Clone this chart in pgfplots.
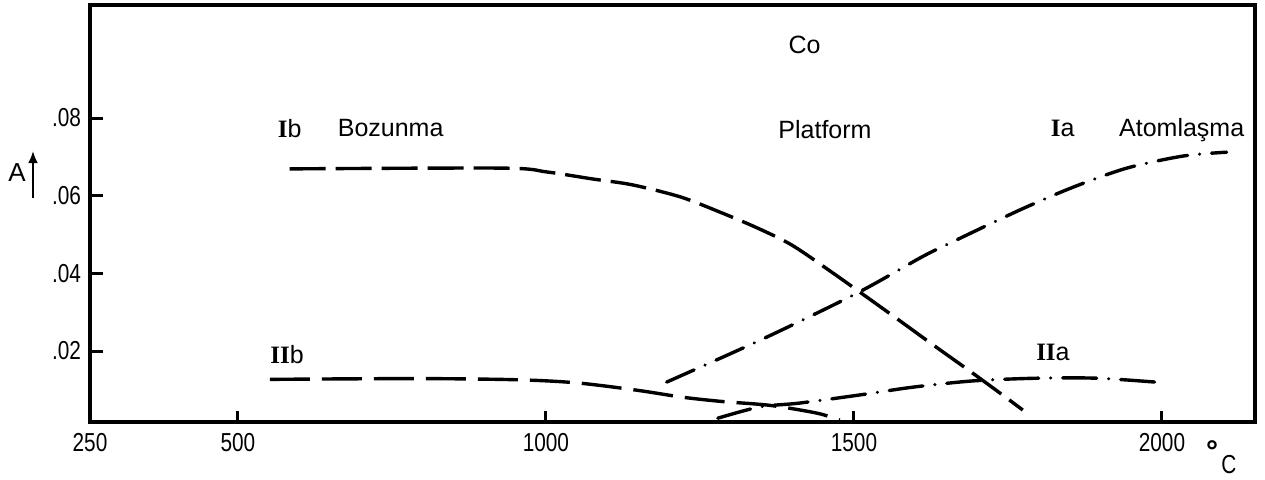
\documentclass[border=0pt]{standalone}
\usepackage{fontspec}
\setmainfont{Liberation Sans}
\newfontfamily\condfont{Liberation Sans}[FakeStretch=0.8]
\newfontfamily\romfont{Liberation Serif}
\usepackage{pgfplots}
\pgfplotsset{compat=1.18}
\usetikzlibrary{arrows.meta}
\begin{document}
\begin{tikzpicture}
\path[use as bounding box] (0,0) rectangle (632.5pt,239.5pt);
\begin{axis}[
  at={(45pt,28.5pt)}, anchor=south west,
  scale only axis, width=582.5pt, height=208.5pt,
  xmin=260, xmax=2151, ymin=0.00172, ymax=0.1091,
  axis line style={line width=1.6pt},
  xtick={260,500,1000,1500,2000}, xticklabels={250,500,1000,1500,2000},
  ytick={0.02,0.04,0.06,0.08}, yticklabels={.02,.04,.06,.08},
  xtick pos=left, ytick pos=left,
  major tick length=0pt,
  xticklabel style={yshift=-2pt},
  yticklabel style={xshift=-1pt},
  ticklabel style={font=\condfont\fontsize{13}{15}\selectfont},
  /pgf/number format/assume math mode=true,
  clip=false,
]
% inward ticks
\draw[line width=1.5pt] (axis cs:500,0.00172) -- (axis cs:500,0.0046);
\draw[line width=1.5pt] (axis cs:1000,0.00172) -- (axis cs:1000,0.0046);
\draw[line width=1.5pt] (axis cs:1500,0.00172) -- (axis cs:1500,0.0046);
\draw[line width=1.5pt] (axis cs:2000,0.00172) -- (axis cs:2000,0.0046);
\draw[line width=1.5pt] (axis cs:260,0.02) -- (axis cs:281,0.02);
\draw[line width=1.5pt] (axis cs:260,0.04) -- (axis cs:281,0.04);
\draw[line width=1.5pt] (axis cs:260,0.06) -- (axis cs:281,0.06);
\draw[line width=1.5pt] (axis cs:260,0.08) -- (axis cs:281,0.08);
% Ib
\addplot[black, line width=1.7pt, dash pattern=on 18pt off 5pt, smooth, tension=0.5] coordinates {
(584,0.0669) (929,0.0671) (1002,0.0661) (1076,0.0643) (1140,0.0628) (1218,0.0597)
(1282,0.0558) (1343,0.0517) (1399,0.0473) (1464,0.0403) (1523,0.03365) (1575,0.02773)
(1631,0.02129) (1688,0.01485) (1737,0.00918) (1774,0.00481)};
% IIb
\addplot[black, line width=1.7pt, dash pattern=on 20pt off 6pt, smooth, tension=0.5] coordinates {
(552,0.0127) (791,0.0129) (953,0.0126) (1050,0.0118) (1148,0.0099) (1222,0.0081)
(1286,0.0070) (1364,0.0060) (1440,0.0040) (1477,0.0022)};
% Ia
\addplot[black, line width=1.7pt, line cap=round, dash pattern=on 15pt off 6pt on 0.01pt off 6pt, smooth, tension=0.5] coordinates {
(1196,0.0120) (1352,0.0231) (1505,0.0349) (1610,0.0442) (1656,0.0478) (1769,0.0563)
(1856,0.0622) (1943,0.0671) (2034,0.0702) (2105,0.0712)};
% IIa
\addplot[black, line width=1.7pt, line cap=round, dash pattern=on 17pt off 6pt on 0.01pt off 6pt, smooth, tension=0.5] coordinates {
(1279,0.0027) (1347,0.0056) (1412,0.0066) (1510,0.0087) (1596,0.0107) (1693,0.0123)
(1797,0.0130) (1894,0.0130) (1989,0.0120)};
\begin{scope}[every node/.style={font=\fontsize{12.5}{14}\selectfont}]
\node at (axis cs:1420,0.0988) {Co};
\node at (axis cs:584,0.0774) {{\romfont\bfseries I}b};
\node at (axis cs:748,0.0774) {Bozunma};
\node at (axis cs:1453,0.0769) {Platform};
\node at (axis cs:1839,0.0774) {{\romfont\bfseries I}a};
\node at (axis cs:2032,0.0769) {Atomlaşma};
\node at (axis cs:580,0.0190) {{\romfont\bfseries II}b};
\node at (axis cs:1823,0.0197) {{\romfont\bfseries II}a};
\end{scope}
\end{axis}
\node[font=\fontsize{13}{15}\selectfont] at (8.5pt,153pt) {A};
\draw[-{Latex[length=6pt,width=5pt]}, line width=1.4pt] (16.5pt,140.5pt) -- (16.5pt,164pt);
\node[font=\bfseries\fontsize{15}{17}\selectfont] at (606pt,14pt) {°};
\node[font=\condfont\fontsize{13}{15}\selectfont] at (614.5pt,7pt) {C};
\end{tikzpicture}
\end{document}
